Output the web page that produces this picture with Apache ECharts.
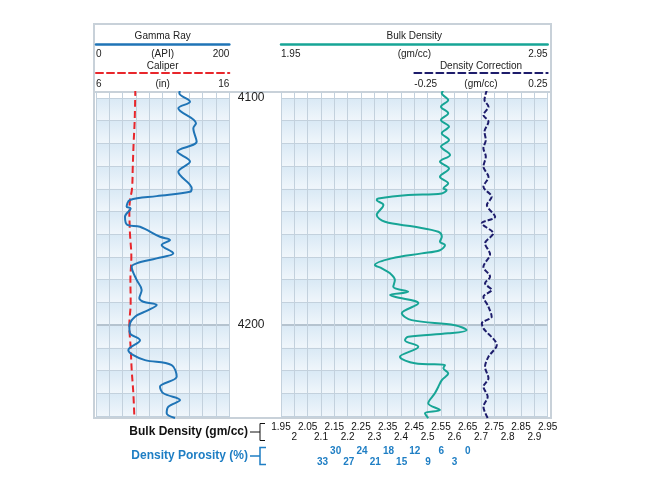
<!DOCTYPE html>
<html><head><meta charset="utf-8">
<script src="https://cdn.jsdelivr.net/npm/echarts@6/dist/echarts.min.js"></script>
<style>html,body{margin:0;padding:0;background:#fff}#c{width:647px;height:485px}</style>
</head><body><div id="c"></div>
<script>
// ---- data ----
const grDepth = [4096.5,4097.9,4101.6,4104.5,4111.1,4113.3,4119.2,4123.6,4128.0,4132.5,4139.8,4141.3,4143.2,4144.9,4147.9,4148.6,4152.3,4155.9,4156.7,4161.1,4162.5,4164.7,4168.4,4170.6,4172.8,4174.3,4180.1,4184.5,4188.2,4189.7,4191.1,4193.4,4196.3,4200.7,4203.6,4206.6,4211.0,4213.2,4215.4,4217.6,4222.7,4227.1,4230.0,4233.0,4235.9,4238.8,4240.9];
const grValues = [126,125,141,123.5,150,146,151,122,141,123.5,143.5,141,91,51,46,52,43.5,47,66,96,111,98.5,116,91,61,53.5,61,68.5,65,71,91,78.5,58.5,50,51,66,48.5,56,73.5,113.5,121,96,101,126,108.5,106,118.5];

const calDepth = [4096,4110,4120,4130,4140,4145,4150,4155,4160,4170,4180,4190,4200,4210,4220,4230,4241];
const calValues = [8.95,8.9,8.82,8.76,8.7,8.55,8.5,8.52,8.55,8.65,8.58,8.6,8.5,8.6,8.68,8.8,8.88];

const rhoDepth = [4096.5,4097.9,4100.9,4103.8,4106.7,4109.7,4112.6,4115.5,4118.5,4121.4,4125.1,4128.0,4131.0,4134.7,4137.6,4139.8,4140.5,4142.0,4142.7,4144.2,4144.9,4147.1,4151.5,4154.5,4156.7,4158.9,4161.1,4163.3,4164.7,4167.0,4168.4,4170.6,4173.5,4175.0,4177.2,4180.1,4183.1,4185.3,4186.7,4187.5,4190.4,4194.8,4197.8,4200.0,4202.2,4203.6,4205.1,4206.6,4209.5,4213.9,4216.8,4217.6,4219.0,4221.2,4224.2,4227.1,4230.0,4234.4,4237.4,4238.8,4240.9];
const rhoValues = [2.559,2.553,2.577,2.550,2.577,2.550,2.580,2.553,2.580,2.550,2.584,2.546,2.580,2.546,2.577,2.559,2.571,2.553,2.427,2.315,2.309,2.334,2.309,2.340,2.452,2.540,2.553,2.546,2.565,2.546,2.478,2.365,2.302,2.328,2.359,2.377,2.371,2.427,2.359,2.377,2.465,2.403,2.440,2.602,2.646,2.577,2.427,2.415,2.465,2.396,2.452,2.565,2.559,2.577,2.553,2.540,2.527,2.502,2.546,2.490,2.502];

const drhoDepth = [4096.5,4100.9,4103.8,4107.5,4110.4,4114.8,4118.5,4122.1,4125.8,4130.3,4134.7,4139.1,4143.5,4147.1,4152.3,4155.2,4159.6,4164.0,4168.8,4174.3,4178.7,4181.6,4184.5,4187.5,4191.9,4196.3,4199.2,4201.4,4208.8,4213.9,4218.3,4223.4,4227.1,4231.5,4235.9,4240.9];
const drhoValues = [0.022,0.013,0.028,0.009,0.028,0.013,0.018,0.009,0.018,0.009,0.028,0.009,0.040,0.022,0.053,0.003,0.046,0.015,0.034,0.009,0.034,0.015,0.040,0.009,0.028,0.040,0.003,0.009,0.059,0.028,0.015,0.028,0.009,0.025,0.009,0.025];

const depthTicks = [4100,4110,4120,4130,4140,4150,4160,4170,4180,4190,4200,4210,4220,4230,4240];
const depthLabels = [4100,4200];
const bdTicks = [1.95,2,2.05,2.1,2.15,2.2,2.25,2.3,2.35,2.4,2.45,2.5,2.55,2.6,2.65,2.7,2.75,2.8,2.85,2.9,2.95];
const bdLabelsTop = [1.95,2.05,2.15,2.25,2.35,2.45,2.55,2.65,2.75,2.85,2.95];
const bdLabelsBottom = [2,2.1,2.2,2.3,2.4,2.5,2.6,2.7,2.8,2.9];
const porLabelsTop = [0,6,12,18,24,30];
const porLabelsBottom = [3,9,15,21,27,33];

// ---- styling ----
const C_GR = '#1f74b6', C_CAL = '#e8262b', C_RHO = '#17a596', C_DRHO = '#1d1c6b', C_POR = '#1e7ec4';
const GRID_LINE = '#c3d1dd';
const yMin = 4100 - 6/2.2714, yMax = 4240 + 2/2.2714;
const FONT = 'Liberation Sans, Arial, sans-serif';
const cellFill = new echarts.graphic.LinearGradient(0,0,0,1,[{offset:0,color:'#d9e9f5'},{offset:1,color:'#f0f6fb'}]);

function depthAxis(grid, extra) {
  return Object.assign({
    type:'value', gridIndex:grid, inverse:true, min:yMin, max:yMax,
    axisLine:{show:false,onZero:false}, axisLabel:{show:false},
    axisTick:{show:false, customValues:depthTicks},
    splitLine:{show:true, lineStyle:{color:GRID_LINE,width:1}},
    splitArea:{show:true, areaStyle:{color:[cellFill]}}
  }, extra||{});
}
function headerAxis(grid, min, max, offset, color, dashed, labels, mid, title, unit, nameGap, margin, extra) {
  return Object.assign({
    type:'value', gridIndex:grid, position:'top', offset:offset, min:min, max:max,
    axisLine:{show:true,onZero:false,lineStyle:{color:color,width:dashed?2:2.5,type:dashed?[7,4]:'solid'}},
    axisTick:{show:false},
    axisLabel:{inside:true, customValues:labels, margin:margin, color:'#222', fontSize:10, fontFamily:FONT,
      showMinLabel:true, showMaxLabel:true, alignMinLabel:'left', alignMaxLabel:'right',
      formatter:v => (Math.abs(v-mid)<1e-9 ? '(' + unit + ')' : String(v))},
    splitLine:{show:false},
    name:title, nameLocation:'middle', nameGap:nameGap, nameMoveOverlap:false,
    nameTextStyle:{color:'#222', fontSize:10, fontFamily:FONT, verticalAlign:'middle'}
  }, extra||{});
}
function bottomLabelAxis(grid, offset, min, max, inverse, values, color, bold, fmt) {
  return {type:'value', gridIndex:grid, position:'bottom', offset:offset, min:min, max:max, inverse:inverse,
    axisLine:{show:false,onZero:false}, axisTick:{show:false}, splitLine:{show:false},
    axisLabel:{customValues:values, margin:4, color:color, fontSize:10, fontWeight:bold?'bold':'normal', fontFamily:FONT,
      showMinLabel:true, showMaxLabel:true, hideOverlap:false, formatter:fmt}};
}
function nameAxis(grid, offset, name, color) {
  return {type:'value', gridIndex:grid, position:'bottom', offset:offset, min:1.95, max:2.95,
    axisLine:{show:false,onZero:false}, axisTick:{show:false}, axisLabel:{show:false}, splitLine:{show:false},
    name:name, nameLocation:'start', nameGap:33, nameMoveOverlap:false,
    nameTextStyle:{color:color, fontSize:12, fontWeight:'bold', fontFamily:FONT, verticalAlign:'middle'}};
}

const chart = echarts.init(document.getElementById('c'), null, {renderer:'canvas'});
const L0 = 96, W0 = 133.33, L1 = 281, W1 = 266.67;
const gridBase = {top:92, height:326, outerBoundsMode:'none', containLabel:false};
const PMIN = (2.65-2.95)/1.65*100, PMAX = (2.65-1.95)/1.65*100;
const bdFmt = v => String(+v.toFixed(2));

chart.setOption({
  animation:false,
  grid:[
    Object.assign({left:L0, width:W0}, gridBase),
    Object.assign({left:L1, width:W1}, gridBase),
    Object.assign({left:L1+W1/2, width:W1/2}, gridBase)
  ],
  xAxis:[
    headerAxis(0,0,200,48,C_GR,false,[0,100,200],100,'Gamma Ray','API',7.5,5,
      {interval:20, splitLine:{show:true,lineStyle:{color:GRID_LINE,width:1}}}),
    headerAxis(0,6,16,19,C_CAL,true,[6,11,16],11,'Caliper','in',7,6),
    headerAxis(1,1.95,2.95,48,C_RHO,false,[1.95,2.45,2.95],2.45,'Bulk Density','gm/cc',7.5,5,
      {axisTick:{show:false,customValues:bdTicks}, splitLine:{show:true,lineStyle:{color:GRID_LINE,width:1}}}),
    bottomLabelAxis(1,0,1.95,2.95,false,bdLabelsTop,'#111',false,bdFmt),
    bottomLabelAxis(1,10,1.95,2.95,false,bdLabelsBottom,'#111',false,bdFmt),
    headerAxis(2,-0.25,0.25,19,C_DRHO,true,[-0.25,0,0.25],0,'Density Correction','gm/cc',7,6),
    bottomLabelAxis(1,24,PMIN,PMAX,true,porLabelsTop,C_POR,true,v=>String(v)),
    bottomLabelAxis(1,35,PMIN,PMAX,true,porLabelsBottom,C_POR,true,v=>String(v)),
    nameAxis(1,14,'Bulk Density (gm/cc)','#111'),
    nameAxis(1,38,'Density Porosity (%)',C_POR)
  ],
  yAxis:[
    depthAxis(0),
    {type:'value', gridIndex:0, position:'right', inverse:true, min:yMin, max:yMax,
      axisLine:{show:false,onZero:false}, axisTick:{show:false,customValues:[4200]},
      axisLabel:{customValues:depthLabels, margin:8.5, color:'#222', fontSize:12, fontFamily:FONT, formatter:v=>String(v)},
      splitLine:{show:true,lineStyle:{color:'#b5c3cf',width:2}}},
    depthAxis(1),
    {type:'value', gridIndex:1, position:'right', inverse:true, min:yMin, max:yMax,
      axisLine:{show:false,onZero:false}, axisTick:{show:false,customValues:[4200]}, axisLabel:{show:false},
      splitLine:{show:true,lineStyle:{color:'#b5c3cf',width:2}}},
    {type:'value', gridIndex:2, inverse:true, min:yMin, max:yMax, show:false}
  ],
  series:[
    {name:'Caliper', type:'line', xAxisIndex:1, yAxisIndex:0, smooth:0.4, showSymbol:false, z:3,
      lineStyle:{color:C_CAL,width:2,type:[7,4]}, data:calDepth.map((d,i)=>[calValues[i],d])},
    {name:'Gamma Ray', type:'line', xAxisIndex:0, yAxisIndex:0, smooth:0.35, showSymbol:false, z:4,
      lineStyle:{color:C_GR,width:2}, data:grDepth.map((d,i)=>[grValues[i],d])},
    {name:'Bulk Density', type:'line', xAxisIndex:2, yAxisIndex:2, smooth:0.35, showSymbol:false, z:4,
      lineStyle:{color:C_RHO,width:2}, data:rhoDepth.map((d,i)=>[rhoValues[i],d])},
    {name:'Density Correction', type:'line', xAxisIndex:5, yAxisIndex:4, smooth:0.3, showSymbol:false, z:4,
      lineStyle:{color:C_DRHO,width:2,type:[5,2]}, data:drhoDepth.map((d,i)=>[drhoValues[i],d])}
  ],
  graphic:[
    {type:'rect', shape:{x:94,y:24,width:457,height:394}, style:{fill:'none',stroke:'#c8d1d9',lineWidth:2}, silent:true, z:-1},
    {type:'line', shape:{x1:94,y1:92,x2:551,y2:92}, style:{stroke:'#c8d1d9',lineWidth:2}, silent:true},
    {type:'polyline', shape:{points:[[250,432],[260,432]]}, style:{stroke:'#111',lineWidth:1}, silent:true},
    {type:'polyline', shape:{points:[[265,423.5],[260,423.5],[260,440.5],[265,440.5]]}, style:{stroke:'#111',fill:'none',lineWidth:1}, silent:true},
    {type:'polyline', shape:{points:[[250,456],[260,456]]}, style:{stroke:C_POR,lineWidth:1.5}, silent:true},
    {type:'polyline', shape:{points:[[266,447.5],[260,447.5],[260,464.5],[266,464.5]]}, style:{stroke:C_POR,fill:'none',lineWidth:1.5}, silent:true}
  ]
});
</script></body></html>
